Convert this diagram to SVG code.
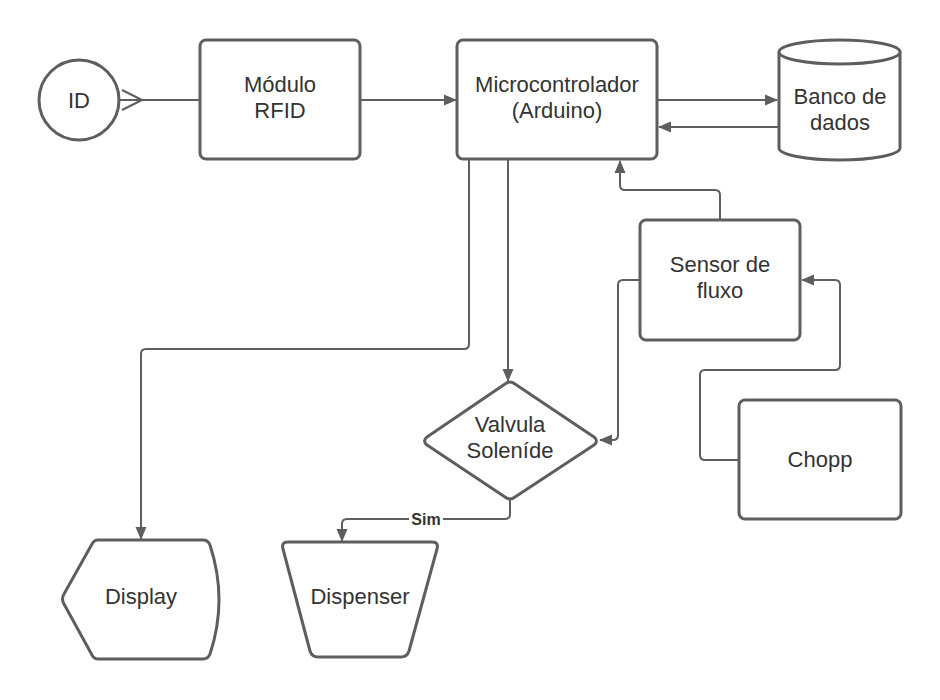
<svg xmlns="http://www.w3.org/2000/svg" width="940" height="700" viewBox="0 0 940 700">
<defs>
<style>
.s{fill:#fff;stroke:#5e5e5e;stroke-width:3;stroke-linejoin:round}
.c{fill:none;stroke:#5e5e5e;stroke-width:2;stroke-linejoin:round}
.t{font-family:"Liberation Sans",Arial,sans-serif;font-size:22px;fill:#333;text-anchor:middle}
.l{font-family:"Liberation Sans",Arial,sans-serif;font-size:16px;font-weight:bold;fill:#333;text-anchor:middle}
</style>
<marker id="a" viewBox="0 0 13 13" refX="12" refY="6.5" markerWidth="13" markerHeight="13" markerUnits="userSpaceOnUse" orient="auto">
<path d="M0,1 L13,6.5 L0,12 Z" fill="#5e5e5e"/>
</marker>
</defs>
<rect width="940" height="700" fill="#fff"/>
<g id="connectors">
<path class="c" d="M120,100 H200"/>
<path class="c" d="M122,90 L142,100 L122,110"/>
<path class="c" d="M361,100 H456" marker-end="url(#a)"/>
<path class="c" d="M658,100 H777" marker-end="url(#a)"/>
<path class="c" d="M778,127 H659" marker-end="url(#a)"/>
<path class="c" d="M720,220 V195 Q720,190 715,190 H625 Q620,190 620,185 V161" marker-end="url(#a)"/>
<path class="c" d="M640,280 H623 Q618,280 618,285 V435 Q618,440 613,440 H600" marker-end="url(#a)"/>
<path class="c" d="M740,460 H705 Q700,460 700,455 V375 Q700,370 705,370 H835 Q840,370 840,365 V285 Q840,280 835,280 H802" marker-end="url(#a)"/>
<path class="c" d="M508,159 V381" marker-end="url(#a)"/>
<path class="c" d="M469,159 V344 Q469,349 464,349 H146 Q141,349 141,354 V539" marker-end="url(#a)"/>
<path class="c" d="M510,500 V514 Q510,519 505,519 H347 Q342,519 342,524 V541" marker-end="url(#a)"/>
<rect x="409" y="510" width="34" height="18" fill="#fff"/>
<text class="l" x="426" y="525">Sim</text>
</g>
<g id="id">
<circle class="s" cx="79" cy="100" r="40"/>
<text class="t" x="79" y="108">ID</text>
</g>
<g id="modulo">
<rect class="s" x="200" y="40" width="160" height="119" rx="6"/>
<text class="t" x="280" y="92">Módulo</text>
<text class="t" x="280" y="118">RFID</text>
</g>
<g id="micro">
<rect class="s" x="457" y="40" width="200" height="119" rx="6"/>
<text class="t" x="557" y="92">Microcontrolador</text>
<text class="t" x="557" y="118">(Arduino)</text>
</g>
<g id="banco">
<path class="s" d="M779,52 V148 A60.5,12 0 0 0 900,148 V52 A60.5,12 0 0 0 779,52 Z"/>
<path class="s" d="M779,52 A60.5,12 0 0 0 900,52" fill="none"/>
<text class="t" x="840" y="104">Banco de</text>
<text class="t" x="840" y="130">dados</text>
</g>
<g id="sensor">
<rect class="s" x="640" y="220" width="160" height="120" rx="6"/>
<text class="t" x="720" y="272">Sensor de</text>
<text class="t" x="720" y="298">fluxo</text>
</g>
<g id="chopp">
<rect class="s" x="739" y="400" width="162" height="119" rx="6"/>
<text class="t" x="820" y="467">Chopp</text>
</g>
<g id="valvula">
<path class="s" d="M505,384 Q510,380 515,384 L594,437 Q599,441 594,445 L515,497 Q510,501 505,497 L427,445 Q422,441 427,437 Z"/>
<text class="t" x="510" y="432">Valvula</text>
<text class="t" x="510" y="458">Soleníde</text>
</g>
<g id="display">
<path class="s" d="M98,540 H203 Q208,540 210,545 Q228,600 210,654 Q208,659 203,659 H98 Q94,659 92,655 L64,604 Q61,599 64,594 L92,544 Q94,540 98,540 Z"/>
<text class="t" x="141" y="604">Display</text>
</g>
<g id="dispenser">
<path class="s" d="M288,542 H432 Q439,542 437,549 L409,651 Q407,657 401,657 H318 Q312,657 310,651 L283,549 Q281,542 288,542 Z"/>
<text class="t" x="360" y="604">Dispenser</text>
</g>
</svg>
